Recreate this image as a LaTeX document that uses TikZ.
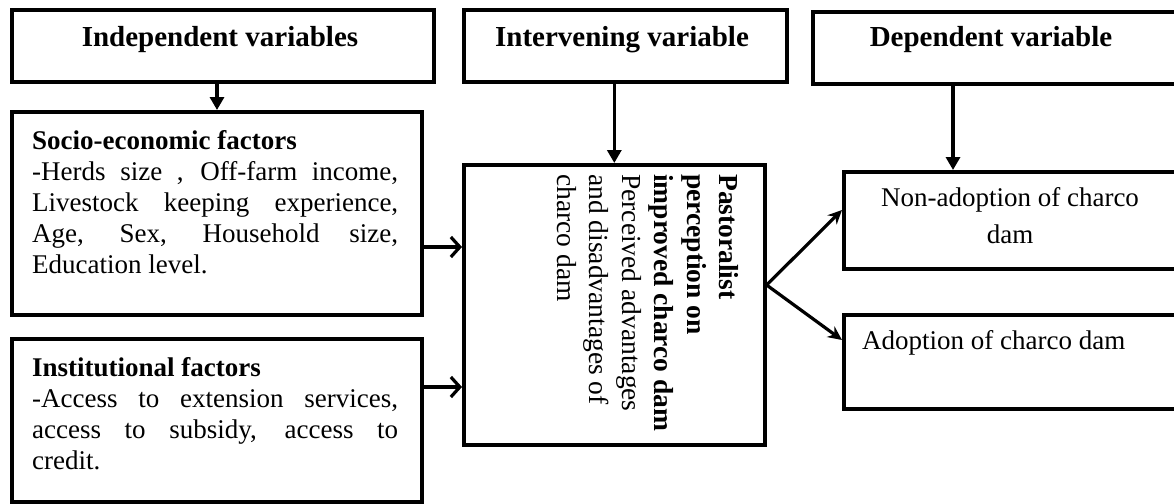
\documentclass[tikz,border=0pt]{standalone}
\usepackage{fontspec}
\setmainfont{Liberation Serif}
\usetikzlibrary{arrows.meta,calc}
\begin{document}
\begin{tikzpicture}[x=1pt,y=1pt,
  box/.style={draw,line width=3.6pt,inner sep=0pt,anchor=north west},
  ttl/.style={font=\fontsize{29}{33}\selectfont\bfseries,inner sep=0pt,anchor=base},
  body/.style={font=\fontsize{27}{31}\selectfont,inner sep=0pt,anchor=north west},
  downarr/.style={line width=3.2pt,-{Triangle[length=13pt,width=14pt]}},
  sidearr/.style={line width=3.2pt,-{Straight Barb[length=9pt,width=20pt,line width=3.2pt]}},
  diagarr/.style={line width=3.2pt,-{Stealth[length=14pt,width=13pt]}}]
\useasboundingbox (0,0) rectangle (1174,-503);
% top boxes
\node[box,minimum width=422pt,minimum height=72pt] (indep) at (10,-8) {};
\node[box,minimum width=323pt,minimum height=72pt] (interv) at (462,-8) {};
\node[box,minimum width=370pt,minimum height=72pt] (dep) at (811,-10) {};
\node[ttl] (indept) at (220,-47) {Independent variables};
\node[ttl] (intervt) at (622,-47) {Intervening variable};
\node[ttl] (dept) at (991,-47) {Dependent variable};
% left boxes
\node[box,minimum width=410pt,minimum height=203pt] (socio) at (10,-110) {};
\node[box,minimum width=410pt,minimum height=163pt] (inst) at (10,-337) {};
\node[body,text width=366pt,align=justify] (sociot) at (32,-130)
 {\textbf{Socio-economic factors}\\
 -Herds size , Off-farm income,\linebreak Livestock keeping experience,\linebreak Age, Sex, Household size,\linebreak Education level.};
\node[body,text width=366pt,align=justify] (instt) at (32,-357)
 {\textbf{Institutional factors}\\
 -Access to extension services,\linebreak access to subsidy, access to\linebreak credit.};
% central box
\node[box,minimum width=301pt,minimum height=280pt] (central) at (462,-163) {};
\node[font=\fontsize{27.5}{32.5}\selectfont,inner sep=0pt,anchor=north west,rotate=-90,align=left] (centralt) at (739,-174)
 {\textbf{Pastoralist}\\ \textbf{perception on}\\ \textbf{improved charco dam}\\ Perceived advantages\\ and disadvantages of\\ charco dam};
% right boxes
\node[box,minimum width=345pt,minimum height=97pt] (nonad) at (842,-170) {};
\node[box,minimum width=345pt,minimum height=94pt] (adopt) at (842,-313) {};
\node[font=\fontsize{27}{37}\selectfont,inner sep=0pt,align=center,anchor=north] (nonadt) at (1010,-187) {Non-adoption of charco\\ dam};
\node[font=\fontsize{27}{31}\selectfont,inner sep=0pt,anchor=north west] (adoptt) at (862,-330) {Adoption of charco dam};
% connectors
\coordinate (a1) at (217,-80);
\draw[downarr] (indep.south -| a1) -- (socio.north -| a1);
\draw[downarr] (interv.south -| central.north) -- (central.north);
\coordinate (a3) at (953,-82);
\draw[downarr] (dep.south -| a3) -- (nonad.north -| a3);
\coordinate (s1) at (0,-247);
\coordinate (s2) at (0,-387);
\draw[sidearr] (socio.east |- s1) -- (central.west |- s1);
\draw[sidearr] (inst.east |- s2) -- (central.west |- s2);
\coordinate (br) at (765,-285);
\coordinate (t1) at (0,-210);
\coordinate (t2) at (0,-340);
\draw[diagarr] (central.east |- br) -- (nonad.west |- t1);
\draw[diagarr] (central.east |- br) -- (adopt.west |- t2);
\end{tikzpicture}
\end{document}
